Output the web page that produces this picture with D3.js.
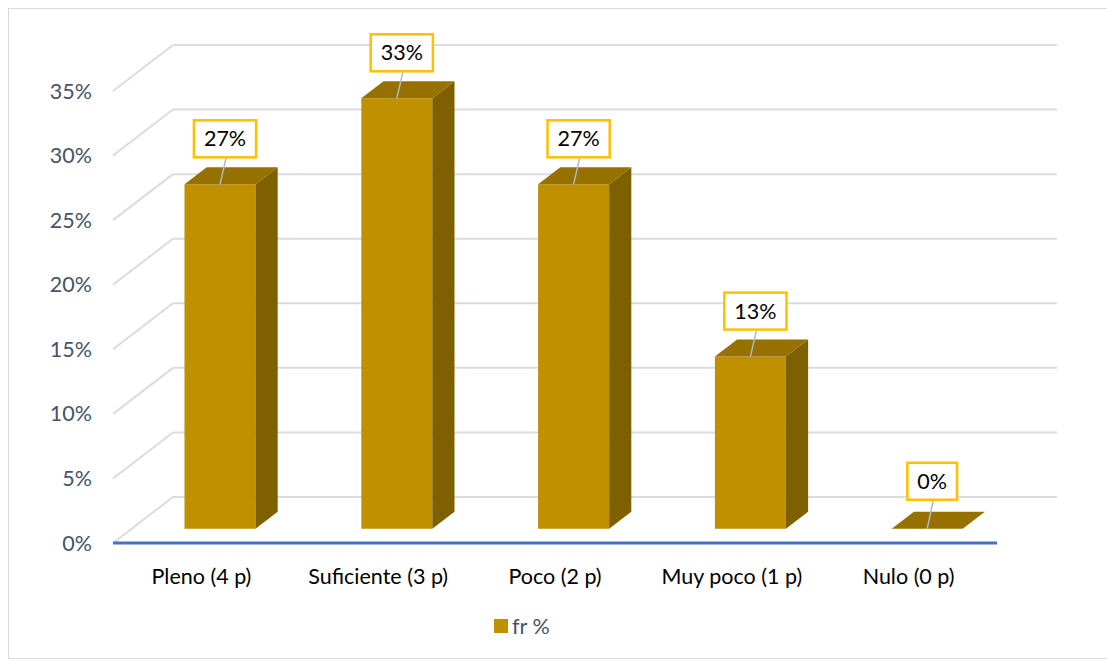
<!DOCTYPE html>
<html>
<head>
<meta charset="utf-8">
<script src="https://cdn.jsdelivr.net/npm/d3@7"></script>
<style>
  html, body { margin: 0; padding: 0; background: #fff; }
  svg { display: block; font-family: Lato, "Liberation Sans", sans-serif; }
</style>
</head>
<body>
<svg id="chart" width="1107" height="666"></svg>
<script>
const categories = ["Pleno (4 p)", "Suficiente (3 p)", "Poco (2 p)", "Muy poco (1 p)", "Nulo (0 p)"];
const values = [0.2667, 0.3333, 0.2667, 0.1333, 0];
const valueLabels = ["27%", "33%", "27%", "13%", "0%"];
const tickValues = [0, 0.05, 0.10, 0.15, 0.20, 0.25, 0.30, 0.35];
const seriesName = "fr %";

const svg = d3.select("#chart");

// layout
const L = 113, R = 997, floorY = 543;
const DX = 60, DY = -46;               // depth vector (front -> back)
const barD0 = 0.31, barD1 = 0.68;      // bar depth range
const barW = 71;

const h = d3.scaleLinear().domain([0, 0.35]).range([0, 452]);
const x = d3.scaleBand().domain(categories).range([L, R]);

// outer border
svg.append("rect").attr("x", 8.5).attr("y", 8.5).attr("width", 1110).attr("height", 650)
  .attr("fill", "none").attr("stroke", "#D9D9D9").attr("stroke-width", 1);

const grid = svg.append("g").attr("stroke", "#D9DCE3").attr("stroke-width", 2).attr("fill", "none");
tickValues.forEach(t => {
  const yf = floorY - h(t);
  grid.append("line").attr("x1", L + DX).attr("y1", yf + DY).attr("x2", R + DX).attr("y2", yf + DY);
  grid.append("line").attr("x1", L).attr("y1", yf).attr("x2", L + DX).attr("y2", yf + DY);
});

// y tick labels
svg.append("g").selectAll("text").data(tickValues).join("text")
  .attr("x", 92).attr("y", t => floorY - h(t)).attr("dy", "0.35em")
  .attr("text-anchor", "end").attr("font-size", 21.5).attr("fill", "#44546A")
  .text(d3.format(".0%"));

// front axis line
svg.append("line").attr("x1", L).attr("y1", floorY).attr("x2", R).attr("y2", floorY)
  .attr("stroke", "#4472C4").attr("stroke-width", 3);

// category labels
svg.append("g").selectAll("text").data(categories).join("text")
  .attr("x", c => x(c) + x.bandwidth() / 2).attr("y", 576).attr("dy", "0.35em")
  .attr("text-anchor", "middle").attr("font-size", 21.5).attr("fill", "#000")
  .text(c => c);

// bars
const pt = (px, py) => px + "," + py;
const bars = svg.append("g");
categories.forEach((c, i) => {
  const v = values[i];
  const cx = x(c) + x.bandwidth() / 2;
  const fx0 = cx + DX * barD0 - barW / 2, fx1 = fx0 + barW;
  const fyB = floorY + DY * barD0;
  const hh = h(v);
  const fyT = fyB - hh;
  const ddx = DX * (barD1 - barD0), ddy = DY * (barD1 - barD0);
  if (hh > 0) {
    bars.append("polygon").attr("points", [pt(fx0, fyB), pt(fx1, fyB), pt(fx1, fyT), pt(fx0, fyT)].join(" "))
      .attr("fill", "#BF9000");
    bars.append("polygon").attr("points", [pt(fx1, fyB), pt(fx1 + ddx, fyB + ddy), pt(fx1 + ddx, fyT + ddy), pt(fx1, fyT)].join(" "))
      .attr("fill", "#7F6000");
  }
  bars.append("polygon").attr("points", [pt(fx0, fyT), pt(fx1, fyT), pt(fx1 + ddx, fyT + ddy), pt(fx0 + ddx, fyT + ddy)].join(" "))
    .attr("fill", "#967100");

  // data label
  const bcx = cx + DX * barD0 + 5;
  const boxBottom = fyT - (hh > 0 ? 27 : 29);
  const boxH = 37;
  const g = svg.append("g");
  const txt = g.append("text").attr("x", bcx).attr("y", boxBottom - boxH / 2).attr("dy", "0.35em")
    .attr("text-anchor", "middle").attr("font-size", 21.5).attr("fill", "#000").text(valueLabels[i]);
  const tw = txt.node().getComputedTextLength();
  const bw = tw + 20;
  g.insert("rect", "text").attr("x", bcx - bw / 2).attr("y", boxBottom - boxH).attr("width", bw).attr("height", boxH)
    .attr("fill", "#fff").attr("stroke", "#FFC000").attr("stroke-width", 2.5);
  svg.append("line").attr("x1", bcx + 1).attr("y1", boxBottom + 1).attr("x2", cx + DX * barD0).attr("y2", fyT)
    .attr("stroke", "#ADB9CA").attr("stroke-width", 1.5);
});

// legend
svg.append("rect").attr("x", 494).attr("y", 619).attr("width", 14).attr("height", 14).attr("fill", "#BF9000");
svg.append("text").attr("x", 512).attr("y", 626).attr("dy", "0.35em").attr("font-size", 21.5).attr("fill", "#44546A").text(seriesName);
</script>
</body>
</html>
